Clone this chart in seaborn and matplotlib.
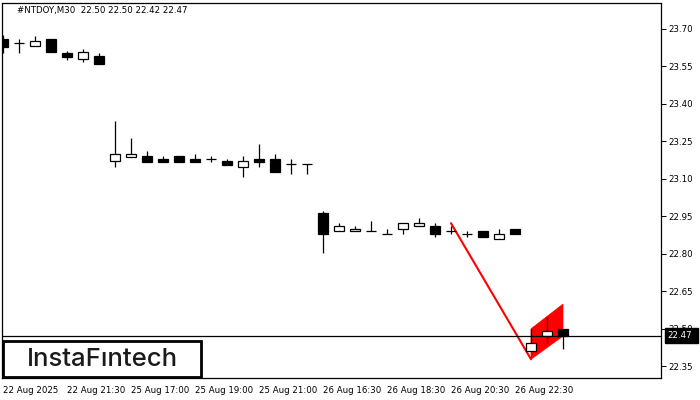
import matplotlib
matplotlib.use("Agg")
import matplotlib.pyplot as plt
from matplotlib.patches import Rectangle, Polygon
import seaborn as sns
import pandas as pd

# ---------------- data ----------------
symbol_title = "#NTDOY,M30  22.50 22.50 22.42 22.47"
opens = [23.660, 23.645, 23.632, 23.660, 23.605, 23.580, 23.592,
         23.170, 23.188, 23.191, 23.179, 23.191, 23.179, 23.179, 23.171, 23.148, 23.179, 23.179, 23.159, 23.159,
         22.962, 22.889, 22.889, 22.889, 22.878, 22.897, 22.909, 22.909, 22.889, 22.878, 22.889, 22.858, 22.897,
         22.409, 22.470, 22.500]
highs = [23.676, 23.660, 23.673, 23.660, 23.612, 23.619, 23.605,
         23.331, 23.263, 23.212, 23.191, 23.191, 23.199, 23.191, 23.179, 23.191, 23.239, 23.199, 23.179, 23.159,
         22.971, 22.922, 22.909, 22.929, 22.897, 22.922, 22.941, 22.922, 22.909, 22.889, 22.889, 22.897, 22.897,
         22.497, 22.547, 22.500]
lows = [23.604, 23.604, 23.632, 23.609, 23.576, 23.569, 23.559,
        23.148, 23.188, 23.167, 23.167, 23.167, 23.167, 23.167, 23.155, 23.108, 23.148, 23.128, 23.119, 23.119,
        22.801, 22.889, 22.889, 22.889, 22.878, 22.878, 22.909, 22.868, 22.878, 22.868, 22.868, 22.858, 22.878,
        22.409, 22.441, 22.420]
closes = [23.628, 23.645, 23.652, 23.609, 23.589, 23.607, 23.559,
          23.199, 23.200, 23.167, 23.167, 23.167, 23.167, 23.179, 23.155, 23.171, 23.167, 23.128, 23.159, 23.159,
          22.878, 22.909, 22.897, 22.889, 22.878, 22.922, 22.922, 22.878, 22.889, 22.878, 22.868, 22.878, 22.878,
          22.441, 22.489, 22.470]

x_tick_pos = [0, 4, 8, 12, 16, 20, 24, 28, 32]
x_tick_labels = ["22 Aug 2025", "22 Aug 21:30", "25 Aug 17:00", "25 Aug 19:00", "25 Aug 21:00",
                 "26 Aug 16:30", "26 Aug 18:30", "26 Aug 20:30", "26 Aug 22:30"]
y_ticks = [22.35, 22.50, 22.65, 22.80, 22.95, 23.10, 23.25, 23.40, 23.55, 23.70]

current_price = 22.47
pole_x = [28, 33]
pole_y = [22.922, 22.377]
flag_x = [33, 35, 35, 33]
flag_y = [22.499, 22.598, 22.470, 22.377]
logo_text = "InstaF\u0131ntech"

# ---------------- figure ----------------
sns.set_style("white")
plt.rcParams['font.family'] = ['DejaVu Sans']

W, H = 700, 400
fig = plt.figure(figsize=(7, 4), dpi=100)
L, R, T, B = 2, 661, 3, 378
ax = fig.add_axes([L / W, 1 - B / H, (R - L) / W, (B - T) / H])

x_px0, x_step = 3, 16
ax.set_xlim((L - x_px0) / x_step, (R - x_px0) / x_step)
ax.set_ylim(22.302, 23.804)

# flag pattern (behind candles)
ax.add_patch(Polygon(list(zip(flag_x, flag_y)), closed=True, facecolor="#ff0000",
                     edgecolor="#ff0000", linewidth=0.5, zorder=1))
pole_df = pd.DataFrame({"x": pole_x, "y": pole_y})
sns.lineplot(data=pole_df, x="x", y="y", color="#ff0000", linewidth=1.5, ax=ax, zorder=2)

# candles
body_w = 0.68
for i, (o, h, l, c) in enumerate(zip(opens, highs, lows, closes)):
    ax.vlines(i, l, h, color="black", linewidth=0.9, zorder=3)
    if abs(c - o) < 1e-9:
        ax.hlines(o, i - body_w / 2, i + body_w / 2, color="black", linewidth=0.9, zorder=4)
    else:
        fill = "white" if c > o else "black"
        ax.bar(i, abs(c - o), bottom=min(o, c), width=body_w, color=fill,
               edgecolor="black", linewidth=0.9, zorder=4)

# current price line
price_df = pd.DataFrame({"x": [ax.get_xlim()[0], ax.get_xlim()[1]], "y": [current_price] * 2})
sns.lineplot(data=price_df, x="x", y="y", color="black", linewidth=0.9, ax=ax, zorder=5)

# axes styling
for s in ax.spines.values():
    s.set_color("black")
    s.set_linewidth(0.9)
ax.yaxis.tick_right()
ax.set_yticks(y_ticks)
ax.set_yticklabels([f"{v:.2f}" for v in y_ticks])
ax.set_xticks(x_tick_pos)
ax.set_xticklabels(x_tick_labels, ha="left")
ax.tick_params(axis="both", which="both", direction="out", length=3.5, width=0.7,
               color="black", labelsize=6.2, labelcolor="black", pad=1.5)
ax.tick_params(axis="x", pad=2)
for lbl in ax.get_xticklabels():
    lbl.set_horizontalalignment("left")
ax.set_xlabel("")
ax.set_ylabel("")
ax.grid(False)

# title
fig.text(17 / W, 1 - 11 / H, symbol_title, fontsize=6.2, va="center", ha="left", color="black")

# current price tag
fig.patches.append(Rectangle((665 / W, 1 - 343 / H), 33 / W, 15 / H, transform=fig.transFigure,
                             facecolor="black", edgecolor="black", zorder=10))
fig.text(667 / W, 1 - 335.5 / H, f"{current_price:.2f}", fontsize=6.2, color="white",
         va="center", ha="left", zorder=11)

# logo box
fig.patches.append(Rectangle((3 / W, 1 - 377 / H), 198 / W, 36 / H, transform=fig.transFigure,
                             facecolor="white", edgecolor="black", linewidth=2.0, zorder=10))
fig.text(102 / W, 1 - 359.5 / H, logo_text, fontsize=18.5, family=["Inter", "DejaVu Sans"],
         weight="medium", color="#1a1a1a", va="center", ha="center", zorder=11)

fig.savefig("out.png", dpi=100)
